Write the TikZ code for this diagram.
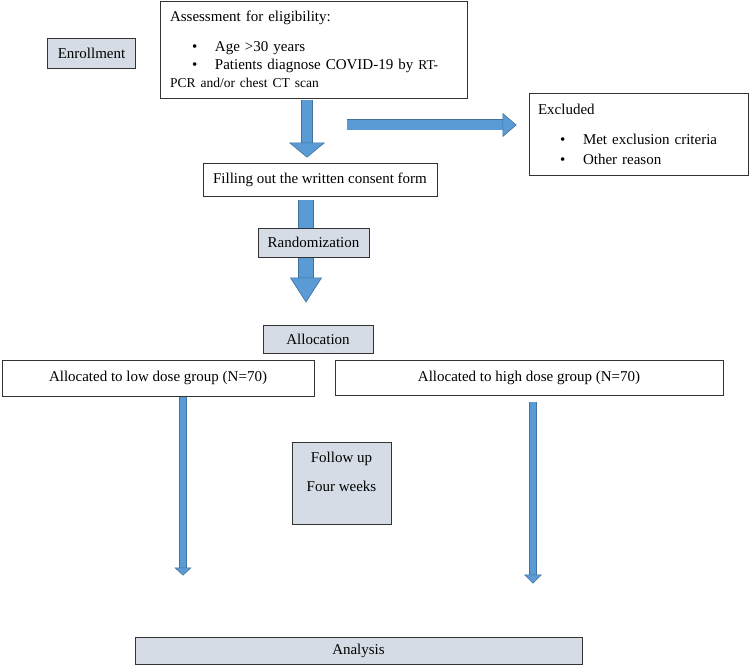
\documentclass[tikz,border=0pt]{standalone}
\usepackage{fontspec}
\setmainfont{Liberation Serif}
\usetikzlibrary{arrows.meta,backgrounds,positioning}
\definecolor{boxgray}{RGB}{214,220,229}
\definecolor{arrowfill}{RGB}{91,155,213}
\definecolor{arrowline}{RGB}{65,113,156}
\newcommand{\itm}[1]{\par\hangindent=45pt\hangafter=1\noindent\hspace*{22pt}\makebox[23pt][l]{\textbullet}#1}
\newcommand{\smallfnt}{\fontsize{13.5}{18}\selectfont}
\begin{document}
\begin{tikzpicture}[x=1pt,y=1pt,
    font=\fontsize{15}{18}\selectfont,
    plain/.style={draw=black!80, line width=0.8pt, fill=white, inner sep=0pt, align=center},
    shaded/.style={plain, fill=boxgray},
    bigarrow/.style={draw=arrowline, line width=0.6pt, double=arrowfill}]
  \useasboundingbox (0,0) rectangle (750,666);
  \begin{scope}
    \node[shaded, minimum width=88pt, minimum height=30pt] (enroll) at (91.5,613) {Enrollment};
    \node[plain, align=left, text width=287pt, inner xsep=10pt, minimum height=97pt] (assess) at (313.5,616.5)
      {Assessment for eligibility:\par\vspace{12pt}%
       \itm{Age >30 years}%
       \itm{Patients diagnose COVID-19 by {\smallfnt RT-}\newline{\smallfnt PCR and/or chest CT scan}}};
    \node[plain, align=left, text width=201pt, inner xsep=9pt, minimum height=82pt,
          font=\fontsize{15}{20}\selectfont] (excl) at (638.5,532)
      {Excluded\par\vspace{10pt}%
       \itm{Met exclusion criteria}%
       \itm{Other reason}};
    \node[plain, minimum width=234pt, minimum height=33pt] (consent) at (320,486.5) {Filling out the written consent form};
    \node[shaded, minimum width=111pt, minimum height=29pt] (rand) at (313.5,423.5) {Randomization};
    \node[shaded, minimum width=110pt, minimum height=28pt] (alloc) at (318,327) {Allocation};
    \node[plain, minimum width=312pt, minimum height=36pt] (low) at (158,288) {Allocated to low dose group (N=70)};
    \node[plain, minimum width=388pt, minimum height=35pt] (high) at (529,288.5) {Allocated to high dose group (N=70)};
    \node[shaded, minimum width=99pt, minimum height=82pt] (follow) at (341.5,183) {Follow up\\[11pt]Four weeks\\[5pt]\mbox{}};
    \node[shaded, minimum width=447pt, minimum height=27pt] (analysis) at (358.5,15.5) {Analysis};
    \coordinate (exclfrom) at (347,541);
    \begin{scope}[on background layer]
      \draw[bigarrow, double distance=10.8pt, shorten <=2pt, shorten >=5pt,
        -{Triangle[width=36pt,length=15pt,color=arrowline,fill=arrowfill]}]
        ([xshift=-6.5pt]assess.south) -- ([xshift=-6.5pt]assess.south |- consent.north);
      \draw[bigarrow, double distance=9.8pt, shorten >=12pt,
        -{Triangle[width=24pt,length=14pt,color=arrowline,fill=arrowfill]}]
        (exclfrom) -- (exclfrom -| excl.west);
      \draw[bigarrow, double distance=14.8pt, shorten <=4pt, shorten >=22pt,
        -{Triangle[width=32pt,length=25pt,color=arrowline,fill=arrowfill]}]
        ([xshift=-14pt]consent.south) -- ([xshift=-14pt]consent.south |- alloc.north);
      \draw[bigarrow, double distance=6.8pt, shorten <=1pt, shorten >=61pt,
        -{Triangle[width=17pt,length=8pt,color=arrowline,fill=arrowfill]}]
        ([xshift=25pt]low.south) -- ([xshift=25pt]low.south |- analysis.north);
      \draw[bigarrow, double distance=6.8pt, shorten <=7pt, shorten >=53pt,
        -{Triangle[width=18pt,length=9pt,color=arrowline,fill=arrowfill]}]
        ([xshift=4pt]high.south) -- ([xshift=4pt]high.south |- analysis.north);
    \end{scope}
  \end{scope}
\end{tikzpicture}
\end{document}
